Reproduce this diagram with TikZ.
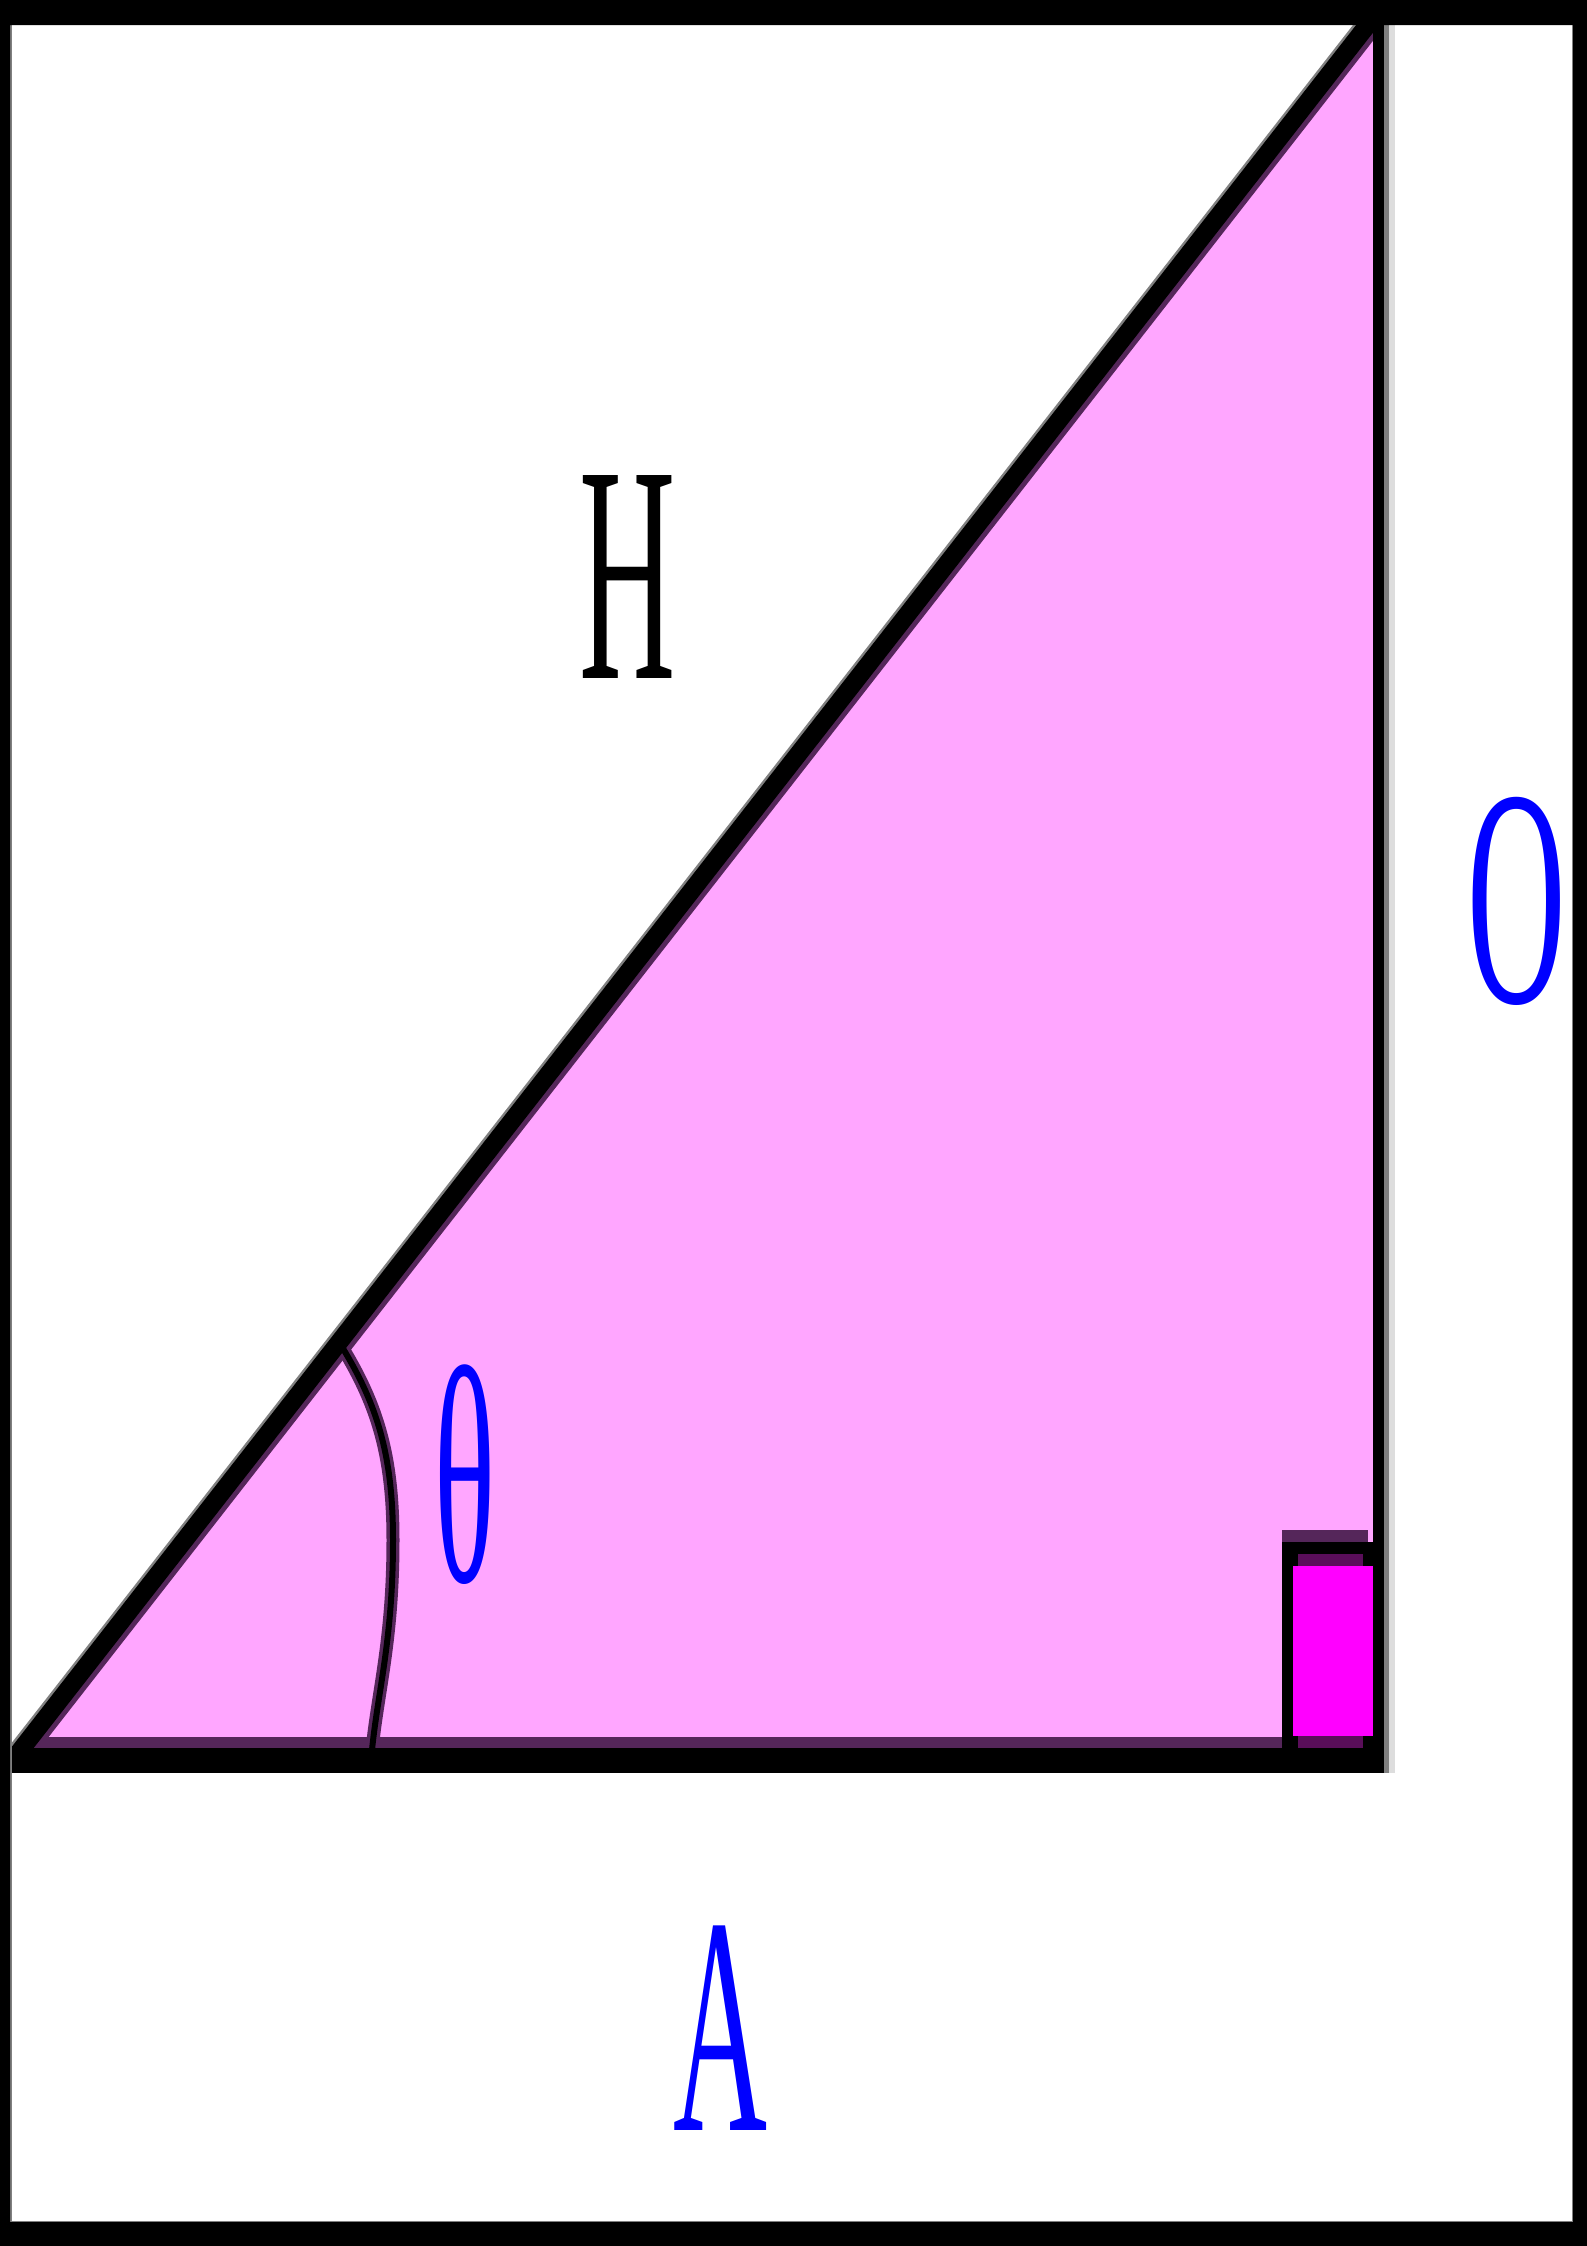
\documentclass[tikz,border=0pt]{standalone}
\usepackage{fontspec}
\setmainfont{Liberation Serif}
\usepackage{graphicx}
\definecolor{pinkfill}{HTML}{FFA6FF}
\definecolor{magfill}{HTML}{FF00FF}
\definecolor{bandpurple}{HTML}{55265A}
\definecolor{darkband}{HTML}{5A0E5A}
\definecolor{lblblue}{HTML}{0000FF}
\definecolor{aagray}{HTML}{808080}
\definecolor{aalight}{HTML}{DDDDDD}
\tikzset{
  lbl/.style={inner sep=0pt, font=\fontsize{310}{310}\selectfont},
  bluelbl/.style={lbl, text=lblblue},
  sideline/.style={draw=black, line cap=butt},
}
\begin{document}
\begin{tikzpicture}[x=1pt,y=-1pt]
\useasboundingbox (0,0) rectangle (1587,2246);
\fill[white] (0,0) rectangle (1587,2246);
% triangle corners
\coordinate (L) at (12.5,1760.5);
\coordinate (T) at (1378.5,11);
\coordinate (R) at (1378.5,1760.5);
\coordinate (Bstart) at (11,1760.5);
\coordinate (Bend) at (1384,1760.5);
\coordinate (Vtop) at (1378.5,25);
\coordinate (Vbot) at (1378.5,1773);
% fill
\fill[pinkfill] (L) -- (T) -- (R) -- cycle;
% antialias gray outside hypotenuse
\draw[aagray, line width=23, line cap=butt] (L) -- (T);
\begin{scope}
  \clip (L) -- (T) -- (R) -- cycle;
  \draw[bandpurple, line width=28, line cap=butt] (L) -- (T);
  \draw[bandpurple, line width=47, line cap=butt] (L) -- (R);
  % angle arc band
  \draw[bandpurple, line width=13] (339,1342) .. controls (375,1400) and (393,1450) .. (393,1540)
        .. controls (393,1640) and (378,1690) .. (372,1750);
\end{scope}
% angle arc
\draw[black, line width=6] (339,1342) .. controls (375,1400) and (393,1450) .. (393,1540)
      .. controls (393,1640) and (378,1690) .. (372,1750);
% right-angle marker
\fill[bandpurple] (1282,1530) rectangle (1368,1542);
\fill[black] (1282,1542) rectangle (1373,1748);
\fill[magfill] (1293,1566) rectangle (1373,1736);
\fill[darkband] (1298,1554) rectangle (1363,1566);
\fill[darkband] (1298,1736) rectangle (1363,1748);
% sides
\draw[sideline, line width=18] (L) -- (T);
\draw[sideline, line width=25] (Bstart) -- (Bend);
\fill[aagray] (1384,25) rectangle (1389,1773);
\fill[aalight] (1389,25) rectangle (1395,1773);
\draw[sideline, line width=11] (Vtop) -- (Vbot);
% frame
\fill[aagray] (10,25) rectangle (11.5,2222);
\fill[aagray] (10,2220.5) rectangle (1573,2222);
\fill[aagray] (1571.5,25) rectangle (1573,2222);
\fill[black, even odd rule] (0,0) rectangle (1587,2246) (10,25) rectangle (1573,2222);
% labels
\node[lbl] (H) at (627.5,576.5) {\scalebox{0.43}[1]{H}};
\node[bluelbl] (O) at (1517,901) {\scalebox{0.44}[1]{O}};
\node[bluelbl] (th) at (465,1475) {\scalebox{0.41}[1]{θ}};
\node[bluelbl] (A) at (721,2028) {\scalebox{0.42}[1]{A}};
\end{tikzpicture}
\end{document}
